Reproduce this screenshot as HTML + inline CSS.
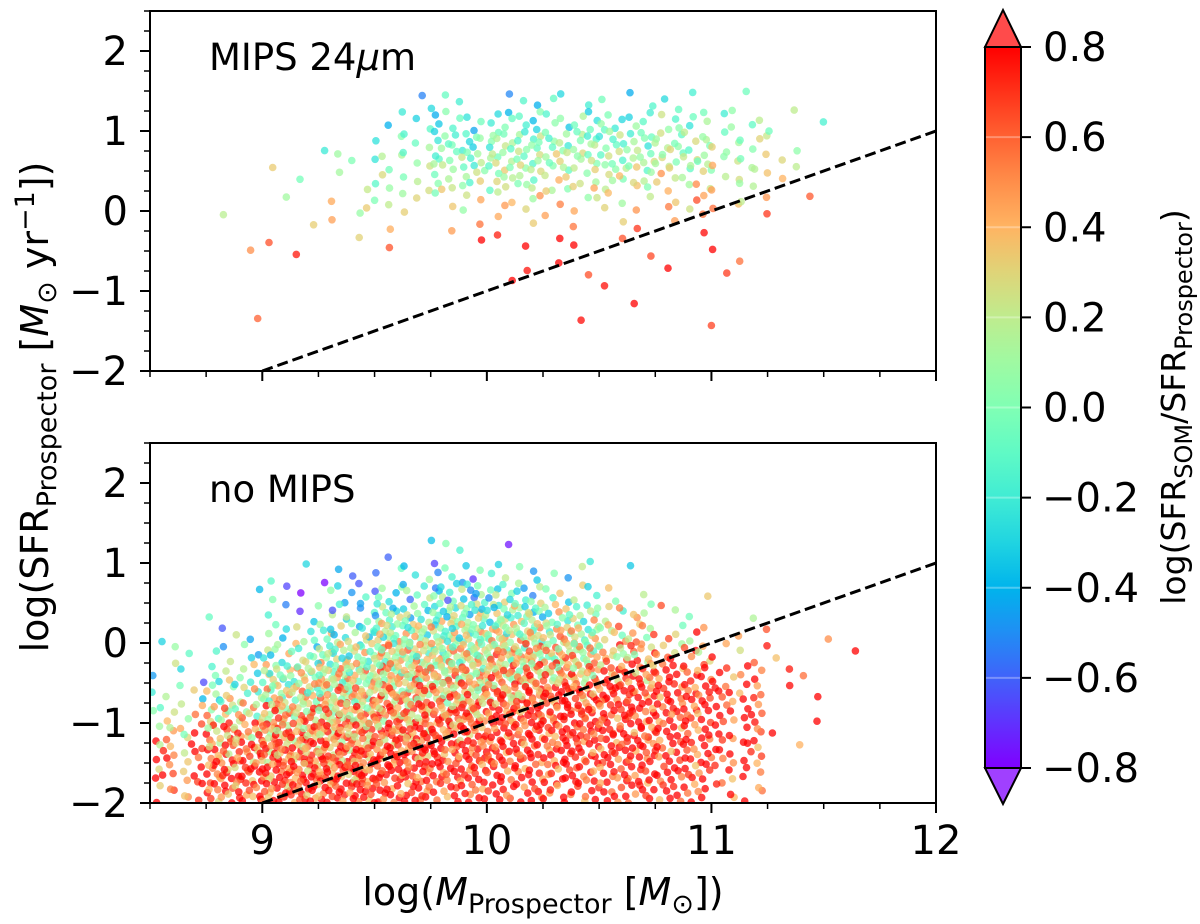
<!DOCTYPE html>
<html><head><meta charset="utf-8"><style>
body{margin:0;background:#fff}
svg{display:block;font-family:"DejaVu Sans","Liberation Sans",sans-serif}
</style></head><body>
<svg id="chart" width="1200" height="924" viewBox="0 0 1200 924" xmlns="http://www.w3.org/2000/svg">
<defs><linearGradient id="cbgrad" x1="0" y1="1" x2="0" y2="0"></linearGradient>
<clipPath id="clipTop"><rect x="150" y="11" width="786" height="360"/></clipPath>
<clipPath id="clipBot"><rect x="150" y="443" width="786" height="360"/></clipPath></defs>
<g id="topPts" clip-path="url(#clipTop)"></g>
<g id="botPts" clip-path="url(#clipBot)"></g>
<g id="axes"></g>
<text x="209" y="70" font-size="37">MIPS 24<tspan font-style="italic">μ</tspan>m</text>
<text x="209" y="502" font-size="37">no MIPS</text>
<text x="543" y="905" font-size="38" text-anchor="middle">log(<tspan font-style="italic">M</tspan><tspan font-size="27" dy="8">Prospector</tspan><tspan dy="-8"> [</tspan><tspan font-style="italic">M</tspan><tspan font-size="27" dy="8">⊙</tspan><tspan dy="-8">])</tspan></text>
<text transform="translate(48,407) rotate(-90)" font-size="38" text-anchor="middle">log(SFR<tspan font-size="27" dy="8">Prospector</tspan><tspan dy="-8"> [</tspan><tspan font-style="italic">M</tspan><tspan font-size="27" dy="8">⊙</tspan><tspan dy="-8"> yr</tspan><tspan font-size="27" dy="-14">−1</tspan><tspan dy="14">])</tspan></text>
<text transform="translate(1185,407) rotate(-90)" font-size="33" text-anchor="middle">log(SFR<tspan font-size="24" dy="7">SOM</tspan><tspan dy="-7">/SFR</tspan><tspan font-size="24" dy="7">Prospector</tspan><tspan dy="-7">)</tspan></text>
</svg>
<script>
// mass bin starts (columns), SFR bin lower edges (rows, top to bottom)
const massBins = [8.5,8.75,9,9.25,9.5,9.75,10,10.25,10.5,10.75,11,11.25,11.5];
const sfrBins = [1.25,1.0,0.75,0.5,0.25,0.0,-0.25,-0.5,-0.75,-1.0,-1.25,-1.5,-1.75,-2.0];
const topCounts = [
[0,0,0,0,1,3,3,3,3,3,2,1,0],
[0,0,0,0,4,8,10,9,9,8,4,1,0],
[0,0,0,1,5,13,18,16,16,13,7,2,0],
[0,0,1,2,7,15,18,16,16,15,8,2,0],
[0,0,1,2,6,10,12,10,10,9,6,1,0],
[0,0,1,2,4,5,6,5,5,5,4,1,0],
[0,1,1,2,2,2,2,2,2,2,1,0,0],
[0,1,1,1,1,1,2,2,1,1,1,0,0],
[0,0,1,0,0,0,1,1,1,1,1,0,0],
[0,0,0,0,0,0,1,1,1,0,1,0,0],
[0,0,0,0,0,0,0,0,1,0,0,0,0],
[0,1,0,0,0,0,0,1,0,1,0,0,0],
[0,0,0,0,0,0,0,0,0,0,0,0,0],
[0,0,0,0,0,0,0,0,0,0,0,0,0]];
const topColors = [
[-0.3,-0.3,-0.3,-0.3,-0.3,-0.3,-0.3,-0.2,-0.2,-0.1,0,0,0],
[-0.2,-0.2,-0.2,-0.2,-0.3,-0.2,-0.2,-0.1,-0.1,0,0,0,0],
[0,0,0,0,-0.1,-0.1,0,0,0,0.1,0.1,0.1,0.1],
[0.1,0.1,0.1,0.1,0,0,0.1,0.1,0.1,0.1,0.2,0.2,0.2],
[0.2,0.2,0.2,0.1,0.1,0.1,0.1,0.2,0.2,0.3,0.3,0.3,0.3],
[0.3,0.3,0.2,0.2,0.2,0.2,0.3,0.3,0.3,0.4,0.4,0.4,0.4],
[0.4,0.4,0.3,0.3,0.4,0.4,0.5,0.5,0.5,0.6,0.6,0.6,0.6],
[0.8,0.6,0.5,0.5,0.6,0.7,0.8,0.8,0.8,0.8,0.8,0.8,0.8],
[0.8,0.8,0.6,0.8,0.8,0.8,0.8,0.8,0.8,0.8,0.8,0.8,0.8],
[0.8,0.8,0.8,0.8,0.8,0.8,0.8,0.8,0.8,0.8,0.8,0.8,0.8],
[0.8,0.8,0.8,0.8,0.8,0.8,0.8,0.8,0.8,0.8,0.8,0.8,0.8],
[0.8,0.8,0.8,0.8,0.8,0.8,0.8,0.8,0.8,0.8,0.8,0.8,0.8],
[0.8,0.8,0.8,0.8,0.8,0.8,0.8,0.8,0.8,0.8,0.8,0.8,0.8],
[0.8,0.8,0.8,0.8,0.8,0.8,0.8,0.8,0.8,0.8,0.8,0.8,0.8]];
const botCounts = [
[0,0,0,0,0,1,0,0,0,0,0,0,0],
[0,0,0,0,1,2,1,1,0,0,0,0,0],
[0,0,2,3,5,8,6,3,1,0,0,0,0],
[0,1,3,6,12,18,15,8,3,1,0,0,0],
[0,1,4,10,20,28,28,18,8,3,1,0,0],
[1,3,8,18,30,35,35,28,16,6,2,0,1],
[2,6,15,28,38,40,40,35,22,12,5,1,1],
[4,10,25,38,40,40,40,36,26,18,8,2,0],
[5,15,32,40,40,40,38,32,28,22,12,2,0],
[8,22,36,40,40,38,34,28,26,22,12,1,0],
[10,28,40,40,38,32,28,26,24,20,10,1,0],
[12,30,40,40,36,30,26,24,24,20,10,1,0],
[10,28,36,36,30,24,20,20,20,16,8,0,0],
[8,24,30,30,24,18,16,16,16,14,6,0,0]];
const botColors = [
[-0.5,-0.5,-0.5,-0.5,-0.5,-0.4,-0.4,-0.3,-0.3,-0.2,0,0,0],
[-0.5,-0.5,-0.5,-0.5,-0.4,-0.4,-0.4,-0.3,-0.2,-0.1,0,0,0],
[-0.5,-0.5,-0.5,-0.4,-0.3,-0.3,-0.2,-0.1,0,0.1,0.2,0.2,0.2],
[-0.4,-0.4,-0.4,-0.3,-0.2,-0.2,-0.1,0,0.1,0.2,0.3,0.3,0.3],
[-0.3,-0.3,-0.3,-0.2,-0.1,0,0,0.1,0.2,0.3,0.4,0.4,0.4],
[-0.3,-0.2,-0.1,0,0.1,0.1,0.2,0.2,0.3,0.4,0.5,0.6,0.7],
[-0.3,-0.1,0,0.1,0.2,0.2,0.3,0.3,0.4,0.5,0.6,0.8,0.8],
[-0.2,0,0.1,0.2,0.3,0.3,0.4,0.4,0.6,0.7,0.8,0.8,0.8],
[0,0.1,0.2,0.3,0.4,0.4,0.5,0.7,0.8,0.8,0.8,0.8,0.8],
[0.2,0.3,0.4,0.4,0.5,0.6,0.7,0.8,0.8,0.8,0.8,0.8,0.8],
[0.4,0.5,0.5,0.5,0.6,0.7,0.8,0.8,0.8,0.8,0.8,0.8,0.8],
[0.6,0.6,0.6,0.6,0.7,0.8,0.8,0.8,0.8,0.8,0.8,0.8,0.8],
[0.7,0.7,0.7,0.7,0.8,0.8,0.8,0.8,0.8,0.8,0.8,0.8,0.8],
[0.7,0.7,0.7,0.8,0.8,0.8,0.8,0.8,0.8,0.8,0.8,0.8,0.8]];
const xTickLabels = ["9","10","11","12"];
const xTickValues = [9,10,11,12];
const yTickLabels = ["2","1","0","−1","−2"];
const yTickValues = [2,1,0,-1,-2];
const cbTickValues = [0.8,0.6,0.4,0.2,0.0,-0.2,-0.4,-0.6,-0.8];
const cbTickLabels = ["0.8","0.6","0.4","0.2","0.0","−0.2","−0.4","−0.6","−0.8"];
const lineStart = [9,-2], lineEnd = [12,1];

const NS="http://www.w3.org/2000/svg";
const X0=150,X1=936,XMIN=8.5,XMAX=12;
const xS=m=>X0+(m-XMIN)/(XMAX-XMIN)*(X1-X0);
const panels=[{top:11},{top:443}];
const yS=(p,s)=>p.top+(2.5-s)/4.5*360;
const CB0=47,CB1=768;
const cbY=v=>CB0+(0.8-v)/1.6*(CB1-CB0);
function rainbow(c){let t=Math.max(0,Math.min(1,(c+0.8)/1.6));
 let r=Math.min(1,Math.abs(2*t-0.5)),g=Math.sin(Math.PI*t),b=Math.cos(Math.PI*t/2);
 return `rgb(${Math.round(r*255)},${Math.round(g*255)},${Math.round(b*255)})`;}
function halton(i,b){let f=1,r=0;while(i>0){f/=b;r+=f*(i%b);i=Math.floor(i/b);}return r;}
function mk(tag,attrs,parent){const e=document.createElementNS(NS,tag);for(const k in attrs)e.setAttribute(k,attrs[k]);parent.appendChild(e);return e;}
function drawPts(gid,counts,colors,p,spread){
 const g=document.getElementById(gid);
 counts.forEach((row,i)=>row.forEach((n,j)=>{
  const seed=(i*13+j)*37+7;
  for(let k=0;k<n;k++){
   const fx=halton(seed+k,2), fy=halton(seed+k,3);
   const m=massBins[j]+fx*0.25, s=sfrBins[i]+fy*0.25;
   const dc=(halton(seed+k,5)-0.5)*spread;
   const c=rainbow(colors[i][j]+dc);
   const el=mk('circle',{cx:xS(m).toFixed(1),cy:yS(p,s).toFixed(1),r:3.8,fill:c,'fill-opacity':0.75},g);
   
   
  }}));
}
drawPts('topPts',topCounts,topColors,panels[0],0.5);
drawPts('botPts',botCounts,botColors,panels[1],0.9);
const ax=document.getElementById('axes');
panels.forEach((p,pi)=>{
 const ln=mk('line',{x1:xS(lineStart[0]),y1:yS(p,lineStart[1]),x2:xS(lineEnd[0]),y2:yS(p,lineEnd[1]),stroke:'#000','stroke-width':3,'stroke-dasharray':'11,5'},ax);
 
 
 const fr=mk('rect',{x:X0,y:p.top,width:X1-X0,height:360,fill:'none',stroke:'#000','stroke-width':2},ax);
 
 
 for(let v=8.5;v<=12.001;v+=0.25){const maj=Math.abs(v-Math.round(v))<1e-6;
  mk('line',{x1:xS(v),x2:xS(v),y1:p.top+360,y2:p.top+360+(maj?10:6),stroke:'#000','stroke-width':maj?2:1.5},ax);}
 for(let v=-2;v<=2.501;v+=0.25){const maj=Math.abs(v-Math.round(v))<1e-6;
  mk('line',{x1:X0,x2:X0-(maj?10:6),y1:yS(p,v),y2:yS(p,v),stroke:'#000','stroke-width':maj?2:1.5},ax);}
 yTickLabels.forEach((l,i)=>{const t=mk('text',{x:128,y:yS(p,yTickValues[i])+14,'font-size':40,'text-anchor':'end'},ax);t.textContent=l;
  
  });
});
xTickLabels.forEach((l,i)=>{const t=mk('text',{x:xS(xTickValues[i]),y:854,'font-size':40,'text-anchor':'middle'},ax);t.textContent=l;
 
 });
// colorbar
const grad=document.getElementById('cbgrad');
for(let i=0;i<=16;i++){mk('stop',{offset:i/16,'stop-color':rainbow(-0.8+i*0.1)},grad);}
const cb=mk('rect',{x:985,y:CB0,width:36,height:CB1-CB0,fill:'url(#cbgrad)'},ax);


const tu=mk('polygon',{points:`985,${CB0} 1021,${CB0} 1003,10`,fill:'#ff4b4b',stroke:'#000','stroke-width':2},ax);


const td=mk('polygon',{points:`985,${CB1} 1021,${CB1} 1003,804`,fill:'#a040ff',stroke:'#000','stroke-width':2},ax);


mk('rect',{x:985,y:CB0,width:36,height:CB1-CB0,fill:'none',stroke:'#000','stroke-width':2},ax);
cbTickValues.forEach((v,i)=>{mk('line',{x1:1021,x2:1031,y1:cbY(v),y2:cbY(v),stroke:'#000','stroke-width':2},ax);
 if(i>0&&i<8)mk('line',{x1:986,x2:1020,y1:cbY(v),y2:cbY(v),stroke:'#fff','stroke-opacity':0.3,'stroke-width':2},ax);
 const t=mk('text',{x:cbTickLabels[i][0]==='−'?1042:1043,y:cbY(v)+14,'font-size':40},ax);t.textContent=cbTickLabels[i];
 
 });
</script>
</body></html>
